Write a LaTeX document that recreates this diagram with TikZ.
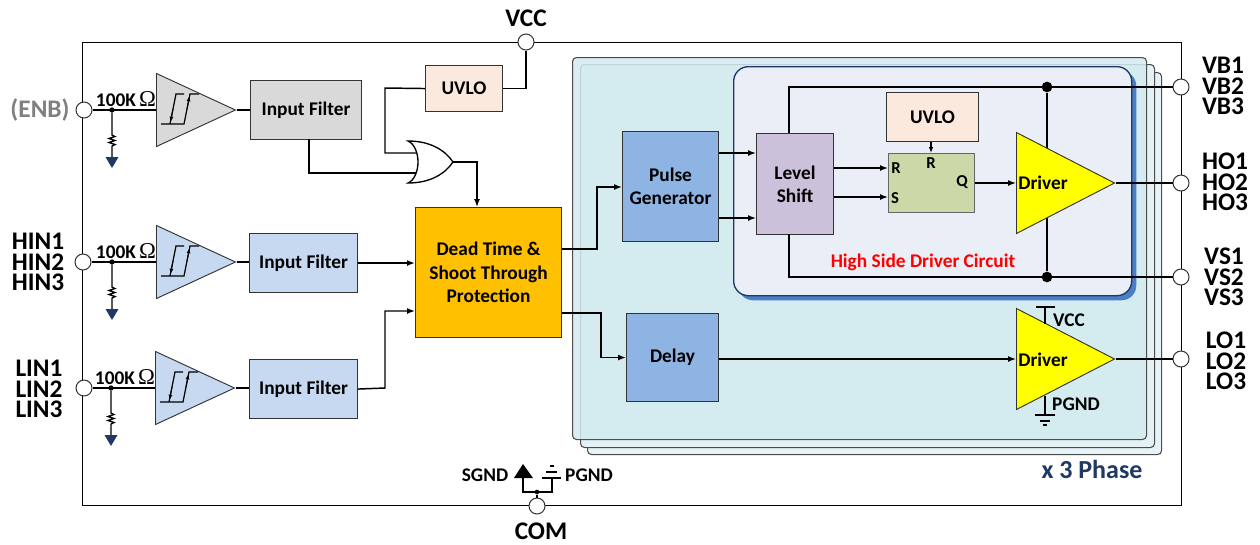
\documentclass[tikz,border=0pt]{standalone}
\usepackage{fontspec}
\setmainfont{Carlito}
\newfontfamily\ohmfont{Liberation Serif}
\usepackage{tikz}
\usetikzlibrary{arrows.meta,shapes.geometric}
\definecolor{panelfill}{HTML}{D2EAF0}
\definecolor{navyblue}{HTML}{1F3864}
\definecolor{greyfill}{HTML}{D9D9D9}
\definecolor{inputblue}{HTML}{C6D9F1}
\definecolor{pulseblue}{HTML}{8EB4E3}
\definecolor{levelpurple}{HTML}{CCC1DA}
\definecolor{peach}{HTML}{FBE9DD}
\definecolor{amber}{HTML}{FFC000}
\definecolor{latchgreen}{HTML}{CBD9A9}
\definecolor{hsdfill}{HTML}{EAEEF6}
\definecolor{hsdshade}{HTML}{4A7EC7}
\definecolor{drvyellow}{RGB}{255,255,0}
\tikzset{
	sized/.style 2 args={minimum width=#1*0.75pt, minimum height=#2*0.75pt, inner sep=0pt, anchor=north west},
	block/.style={draw=black!80, line width=0.8pt, align=center, font=\fontsize{14.5}{17.6}\selectfont\bfseries},
	phase/.style={draw=black!70, line width=0.8pt, rounded corners=3pt},
	pin/.style={circle, draw=black!80, fill=white, line width=0.75pt, minimum size=12pt, inner sep=0pt},
	pinlabel/.style={align=center, font=\fontsize{19}{15.4}\selectfont\bfseries},
	smalltext/.style={font=\fontsize{14.5}{14.5}\selectfont\bfseries},
	latchtext/.style={font=\fontsize{12.5}{12.5}\selectfont\bfseries},
	junction/.style={circle, fill=black, minimum size=#1, inner sep=0pt},
	wire/.style={line width=1.1pt},
	tria/.style={isosceles triangle, isosceles triangle stretches, shape border rotate=0, draw=black!80, line width=0.7pt, inner sep=0pt, anchor=lower side},
}
\begin{document}
\begin{tikzpicture}[x=0.75pt, y=-0.75pt, >={Latex[length=6pt,width=4.5pt]}]
	\useasboundingbox (0,0) rectangle (1260,544);
	% package outline
	\node[draw=black, line width=0.75pt, sized={1099}{463}] (chip) at (82,42) {};
	% three phase sheets
	\node[phase, fill=panelfill!55, sized={574}{382}] (phasec) at (587,72) {};
	\node[phase, fill=panelfill!60, sized={574}{383}] (phaseb) at (580,64) {};
	\node[phase, fill=panelfill, fill opacity=0.85, sized={574}{382}] (phasea) at (572,57) {};
	% high side panel
	\node[fill=hsdshade, rounded corners=11pt, sized={398}{229}] (hsdshadow) at (738,71) {};
	\node[draw=navyblue, fill=hsdfill, line width=1pt, rounded corners=11pt, sized={398}{229}] (hsd) at (733,66) {};
	% pins
	\foreach \nm/\cx/\cy in {enb/84/110, hin/83/262, lin/84/388, vcc/526/42, vb/1181/87, ho/1181/183, vs/1181/277, lo/1181/359, com/537/506}
		\node[pin] (pin\nm) at (\cx,\cy) {};
	\node[pinlabel, text=black!50] (lblenb) at (40,110) {(ENB)};
	\node[pinlabel] (lblhin) at (38,262) {HIN1\\HIN2\\HIN3};
	\node[pinlabel] (lbllin) at (39,389) {LIN1\\LIN2\\LIN3};
	\node[pinlabel] (lblvcc) at (526,18) {VCC};
	\node[pinlabel] (lblcom) at (541,531) {COM};
	\node[pinlabel] (lblvb) at (1223,86) {VB1\\VB2\\VB3};
	\node[pinlabel] (lblho) at (1225,182) {HO1\\HO2\\HO3};
	\node[pinlabel] (lblvs) at (1224,277) {VS1\\VS2\\VS3};
	\node[pinlabel] (lbllo) at (1226,361) {LO1\\LO2\\LO3};
	% input stages
	\foreach \nm/\cx/\cy/\colr in {enb/156/110/greyfill, hin/156/262/inputblue, lin/155/388/inputblue} {
		\node[tria, fill=\colr, minimum height=79*0.75pt, minimum width=73*0.75pt] (comp\nm) at (\cx,\cy) {};
		\node[junction=4pt] (tap\nm) at (\cx-44,\cy) {};
		\node[smalltext] (res\nm) at (\cx-30,\cy-11) {100K\,{\ohmfont\mdseries\fontsize{17}{17}\selectfont Ω}};
		\draw[wire] (pin\nm) -- (comp\nm.lower side);
		\coordinate (gnd\nm) at (\cx-44,\cy+47);
		\draw[line width=1pt] (tap\nm) -- (\cx-44,\cy+25) -- ++(3,1.5) -- ++(-6,2) -- ++(6,2) -- ++(-6,2) -- ++(6,2) -- ++(-3,1.5) -- (gnd\nm);
		\fill[navyblue] (gnd\nm)++(-6.5,0) -- ++(13,0) -- ++(-6.5,11) -- cycle;
		\draw[line width=0.9pt] (\cx+5,\cy+14) -- ++(23,0) -- ++(6,-30) -- ++(9,0);
		\draw[line width=0.9pt] (\cx+14,\cy+14) -- (\cx+20,\cy-16) -- ++(8,0);
		\draw[-{Latex[length=4pt,width=3pt]}, line width=0.7pt] (\cx+17,\cy-1) -- (\cx+14.5,\cy+12);
		\draw[-{Latex[length=4pt,width=3pt]}, line width=0.7pt] (\cx+31,\cy-1) -- (\cx+33.5,\cy-14);
	}
	\node[block, fill=greyfill, sized={111}{59}] (filtenb) at (250,80) {Input Filter};
	\node[block, fill=inputblue, sized={108}{59}] (filthin) at (249,233) {Input Filter};
	\node[block, fill=inputblue, sized={108}{59}] (filtlin) at (249,359) {Input Filter};
	\draw[wire] (compenb.apex) -- (filtenb.west |- compenb.apex);
	\draw[wire] (comphin.apex) -- (filthin.west |- comphin.apex);
	\draw[wire] (complin.apex) -- (filtlin.west |- complin.apex);
	% enable logic
	\node[block, fill=peach, sized={77}{46}] (uvlolow) at (425,65) {UVLO};
	\node[block, fill=amber, sized={146}{130}] (dead) at (415,207) {Dead Time \&\\Shoot Through\\Protection};
	\coordinate (orin) at (418,153);
	\coordinate (orinb) at (418,173);
	\coordinate (orout) at (453,162);
	\draw[wire] (pinvcc) |- (uvlolow.east);
	\draw[wire] (uvlolow.west) -- (385,88) |- (orin);
	\draw[wire] (309,139) |- (orinb);
	\draw[line width=1pt, fill=white] (408,141) .. controls (430,141) and (445,150) .. (orout) .. controls (445,174) and (430,183) .. (408,183) .. controls (415,180) and (418,170) .. (418,162) .. controls (418,154) and (415,144) .. (408,141) -- cycle;
	\draw[wire,->] (orout) -| (dead.north -| 477,0);
	\draw[wire,->] (filthin.east) -- (dead.west |- filthin.east);
	\draw[wire,->] (filtlin.east) -- (385,388) |- (dead.west |- 0,311);
	% phase blocks
	\node[block, fill=pulseblue, sized={96}{110}] (pulse) at (622,131) {Pulse\\Generator};
	\node[block, fill=pulseblue, sized={92}{88}] (delay) at (626,313) {Delay};
	\node[block, fill=levelpurple, sized={77}{101}] (level) at (756,133) {Level\\Shift};
	\node[block, fill=peach, sized={92}{49}] (uvlohigh) at (886,92) {UVLO};
	\node[draw=black!60, line width=0.8pt, fill=latchgreen, sized={86}{59}] (latch) at (888,153) {};
	\node[latchtext] (latchr) at (896,168) {R};
	\node[latchtext] (latchs) at (895,198) {S};
	\node[latchtext] (latcht) at (931,163) {R};
	\node[latchtext] (latchq) at (962,182) {Q};
	\draw[wire,->] (dead.east |- 0,249) -- (597,249) |- (pulse.west |- 0,187);
	\draw[wire,->] (dead.east |- 0,313) -- (601,313) |- (delay.west);
	\draw[wire,->] (pulse.east |- 0,153) -- (level.west |- 0,153);
	\draw[wire,->] (pulse.east |- 0,218) -- (level.west |- 0,218);
	\draw[wire,->] (level.east |- 0,168) -- (latch.west |- 0,168);
	\draw[wire,->] (level.east |- 0,197) -- (latch.west |- 0,197);
	\draw[line width=0.9pt,-{Latex[length=4.5pt,width=3.5pt]}] (uvlohigh.south -| 931,0) -- (latch.north -| 931,0);
	% rails and drivers
	\node[junction=8pt] (dotvb) at (1047,87) {};
	\node[junction=8pt] (dotvs) at (1047,277) {};
	\draw[wire] (789,133) |- (pinvb);
	\draw[wire] (789,234) |- (pinvs);
	\draw[wire] (dotvb) -- (dotvs);
	\node[tria, fill=drvyellow, minimum height=98*0.75pt, minimum width=101*0.75pt] (drvhigh) at (1016,183) {};
	\node[tria, fill=drvyellow, minimum height=98*0.75pt, minimum width=101*0.75pt] (drvlow) at (1016,359) {};
	\node[smalltext] (drvhightxt) at (1043,183) {Driver};
	\node[smalltext] (drvlowtxt) at (1043,360) {Driver};
	\draw[wire,->] (latch.east |- 0,183) -- (drvhigh.lower side);
	\draw[wire,->] (delay.east |- drvlow.lower side) -- (drvlow.lower side);
	\draw[wire] (drvhigh.apex) -- (pinho);
	\draw[wire] (drvlow.apex) -- (pinlo);
	% driver supply
	\draw[wire] (1045,307) -- (1045,324);
	\draw[line width=1.5pt] (1036,307) -- (1055,307);
	\draw[wire] (1045,396) -- (1045,415);
	\draw[line width=0.9pt] (1035,415) -- (1055,415) (1040,421) -- (1050,421) (1043,425) -- (1047,425);
	\node[smalltext] (drvvcc) at (1069,320) {VCC};
	\node[smalltext] (drvpgnd) at (1076,404) {PGND};
	\node[text=red, smalltext] (hsdtxt) at (923,262) {High Side Driver Circuit};
	\node[text=navyblue, font=\fontsize{19.5}{19.5}\selectfont\bfseries] (phasetxt) at (1092,469) {x 3 Phase};
	% ground tree
	\node[junction=3.5pt] (comtap) at (537,492) {};
	\draw[line width=1pt] (pincom) -- (comtap);
	\draw[line width=1pt] (523,478) |- (552,492) -- (552,478);
	\fill (523,464) -- (533,478) -- (514,478) -- cycle;
	\draw[line width=1.2pt] (542,478) -- (561,478) (546,472) -- (557,472) (550,466) -- (554,466);
	\node[smalltext] (sgndtxt) at (485,475) {SGND};
	\node[smalltext] (pgndtxt) at (589,475) {PGND};
\end{tikzpicture}
\end{document}
